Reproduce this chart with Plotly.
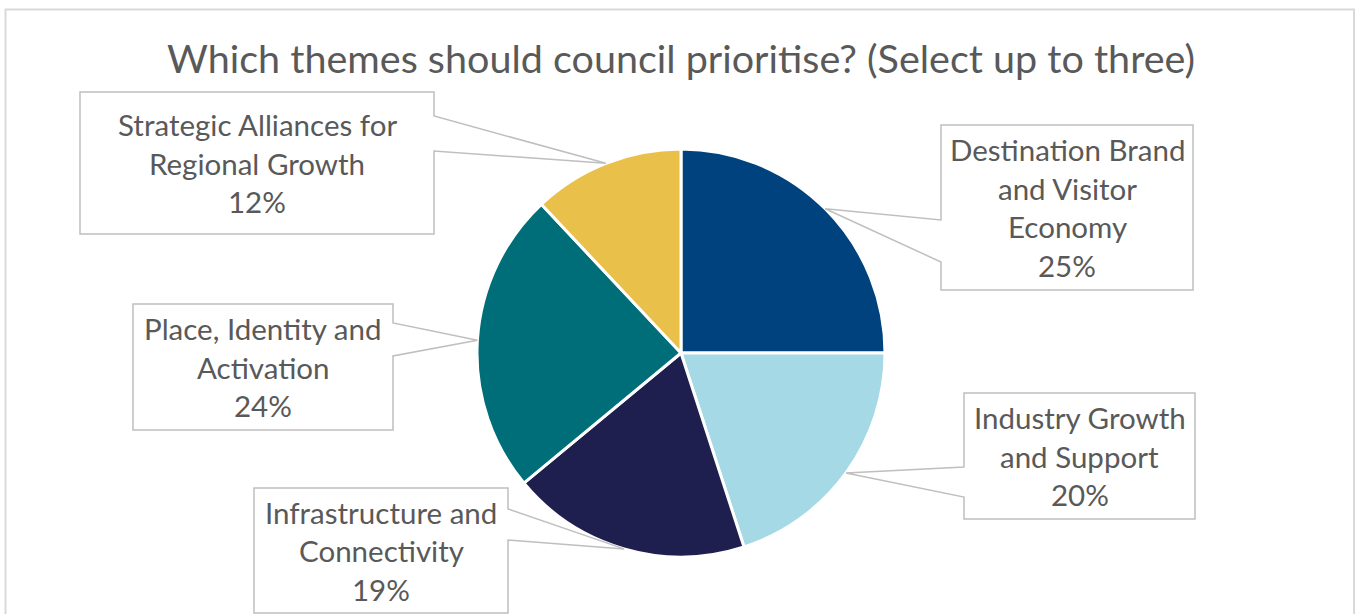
import math
import plotly.graph_objects as go

# Survey results (share of selections)
themes = [
    "Destination Brand and Visitor Economy",
    "Industry Growth and Support",
    "Infrastructure and Connectivity",
    "Place, Identity and Activation",
    "Strategic Alliances for Regional Growth",
]
shares = [25, 20, 19, 24, 12]
label_lines = [
    ["Destination Brand", "and Visitor", "Economy"],
    ["Industry Growth", "and Support"],
    ["Infrastructure and", "Connectivity"],
    ["Place, Identity and", "Activation"],
    ["Strategic Alliances for", "Regional Growth"],
]
colors = ["#00427E", "#A5D9E6", "#1F1F4F", "#006E78", "#E8C04A"]

W, H = 1357, 614
CX, CY, R = 681, 353, 204          # pie centre / radius in pixels

# Callout boxes in pixels: x0, y0, x1, y1, side of the pointer, attach ya, yb
callouts = [
    dict(x0=941, y0=125, x1=1193, y1=290, side="left", ya=220, yb=262),
    dict(x0=964, y0=393, x1=1195, y1=519, side="left", ya=467, yb=497),
    dict(x0=254, y0=488, x1=508, y1=613, side="right", ya=509, yb=540),
    dict(x0=133, y0=304, x1=393, y1=430, side="right", ya=323, yb=356),
    dict(x0=80, y0=92, x1=434, y1=234, side="right", ya=116, yb=151),
]

TEXT = "#595959"
FONT = "Lato"
LINE_GAP = 38.5


def px(x):
    return x / W


def py(y):
    return 1 - y / H


fig = go.Figure(
    go.Pie(
        labels=themes,
        values=shares,
        sort=False,
        direction="clockwise",
        rotation=0,
        marker=dict(colors=colors, line=dict(color="white", width=3)),
        textinfo="none",
        hoverinfo="label+percent",
        showlegend=False,
        domain=dict(x=[px(CX - R), px(CX + R)], y=[py(CY + R), py(CY - R)]),
    )
)

shapes = []
annotations = []
total = sum(shares)
cum = 0
for name, val, lines, box in zip(themes, shares, label_lines, callouts):
    mid = (cum + val / 2) / total * 2 * math.pi
    cum += val
    tx = CX + R * math.sin(mid)
    ty = CY - R * math.cos(mid)
    x0, y0, x1, y1 = box["x0"], box["y0"], box["x1"], box["y1"]
    ya, yb = box["ya"], box["yb"]
    if box["side"] == "right":
        pts = [(x0, y0), (x1, y0), (x1, ya), (tx, ty), (x1, yb), (x1, y1), (x0, y1)]
    else:
        pts = [(x0, y0), (x1, y0), (x1, y1), (x0, y1), (x0, yb), (tx, ty), (x0, ya)]
    path = "M " + " L ".join(f"{px(a):.5f},{py(b):.5f}" for a, b in pts) + " Z"
    shapes.append(dict(type="path", xref="paper", yref="paper", path=path,
                       fillcolor="white", line=dict(color="#BFBFBF", width=1.5),
                       layer="above"))
    rows = lines + [f"{val}%"]
    cx = (x0 + x1) / 2
    cy = (y0 + y1) / 2
    for i, row in enumerate(rows):
        yy = cy + (i - (len(rows) - 1) / 2) * LINE_GAP
        annotations.append(dict(x=px(cx), y=py(yy), xref="paper", yref="paper",
                                text=row, showarrow=False,
                                xanchor="center", yanchor="middle",
                                font=dict(family=FONT, size=29.5, color=TEXT)))

# outer chart frame
shapes.insert(0, dict(type="rect", xref="paper", yref="paper",
                      x0=px(5.5), x1=px(1354), y0=py(9.5), y1=py(640),
                      line=dict(color="#D9D9D9", width=2), layer="below"))

annotations.append(dict(x=px(681), y=py(57), xref="paper", yref="paper",
                        text="Which themes should council prioritise? (Select up to three)",
                        showarrow=False, xanchor="center", yanchor="middle",
                        font=dict(family=FONT, size=39.5, color=TEXT)))

fig.update_layout(
    width=W, height=H,
    margin=dict(l=0, r=0, t=0, b=0),
    paper_bgcolor="white",
    plot_bgcolor="white",
    shapes=shapes,
    annotations=annotations,
)

fig.write_html("out.html")
